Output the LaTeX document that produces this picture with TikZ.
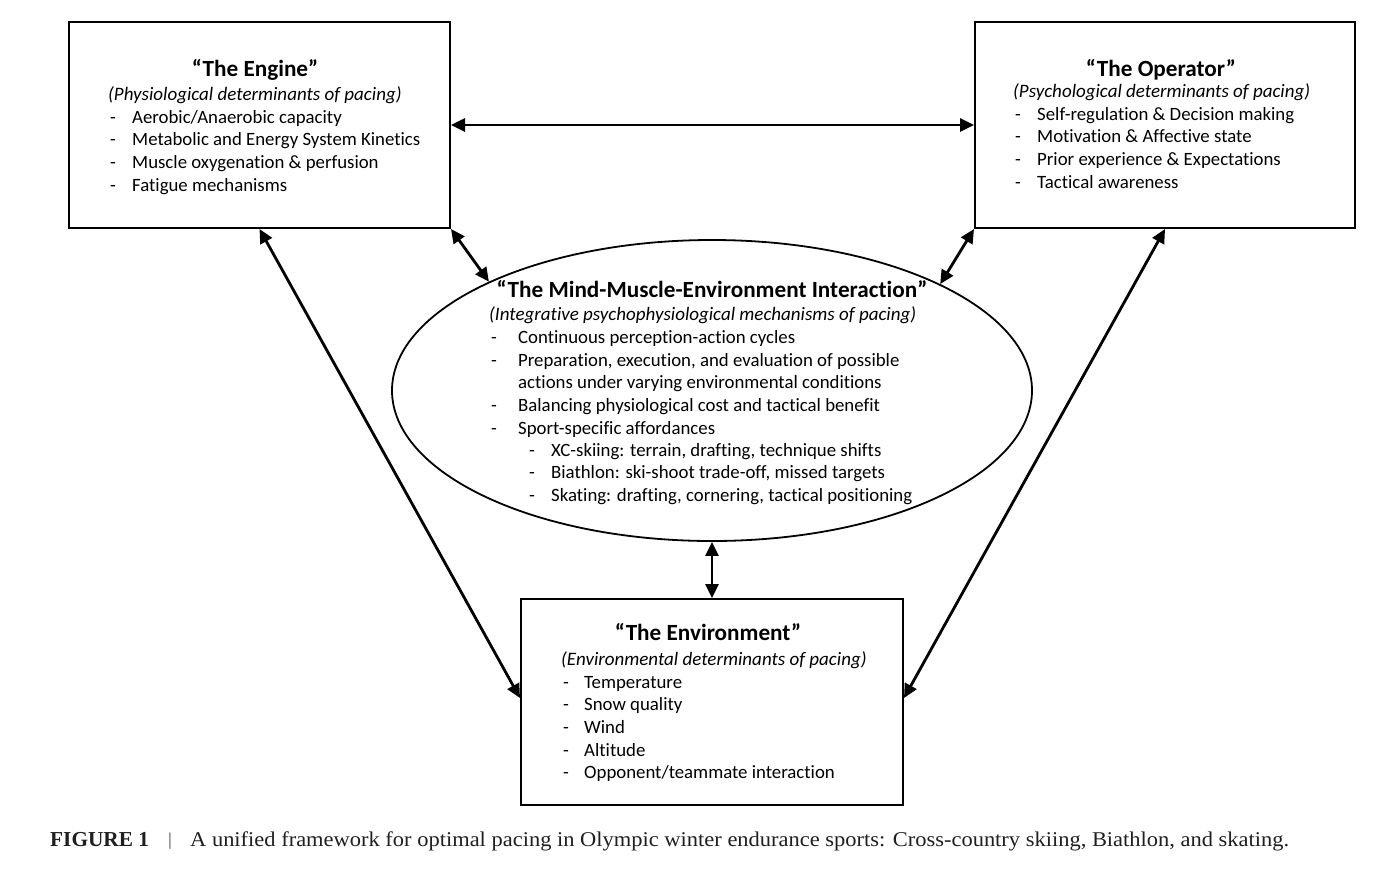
\documentclass[tikz,border=0pt]{standalone}
\usepackage{fontspec}
\setmainfont{Carlito}[Ligatures=NoCommon]
\newfontfamily\capfont{Liberation Serif}[FakeStretch=1.07]
\newfontfamily\capfontb{Liberation Serif}
\usetikzlibrary{arrows.meta,shapes.geometric,calc}
\begin{document}
\begin{tikzpicture}[x=1pt,y=1pt,
  box/.style={draw,line width=2pt,inner sep=0pt},
  ttl/.style={font=\fontsize{23.2}{26}\selectfont\bfseries,anchor=base,inner sep=0pt},
  sub/.style={font=\fontsize{19}{22}\selectfont\itshape,anchor=base west,inner sep=0pt},
  itm/.style={font=\fontsize{18.8}{22}\selectfont,anchor=base west,inner sep=0pt},
  dsh/.style={font=\fontsize{18.8}{22}\selectfont,anchor=base west,inner sep=0pt},
  biarrow/.style={line width=2.8pt,{Triangle[length=14pt,width=13pt]}-{Triangle[length=14pt,width=13pt]}}
]
\useasboundingbox (0,0) rectangle (1380,-876);
\fill[white] (0,0) rectangle (1380,-876);

% boxes
\node[box, minimum width=381pt, minimum height=206pt] (engine) at (259.5,-125) {};
\node[box, minimum width=380pt, minimum height=206pt] (operator) at (1165,-125) {};
\node[box, minimum width=382pt, minimum height=206pt] (env) at (712,-702) {};
\node[draw, line width=1.8pt, ellipse, minimum width=640pt, minimum height=301pt, inner sep=0pt] (mmei) at (712,-390.5) {};

% Engine text
\node[ttl] (etitle) at (255,-76) {“The Engine”};
\node[sub] (esub) at (108,-100) {(Physiological determinants of pacing)};
\foreach \t [count=\i] in {Aerobic/Anaerobic capacity,Metabolic and Energy System Kinetics,Muscle oxygenation \& perfusion,Fatigue mechanisms}{
  \node[dsh] (ed\i) at (110,-123-22.7*\i+22.7) {-};
  \node[itm] (ei\i) at (132,-123-22.7*\i+22.7) {\t};
}

% Operator text
\node[ttl] (otitle) at (1161,-76) {“The Operator”};
\node[sub] (osub) at (1013,-97) {(Psychological determinants of pacing)};
\foreach \t [count=\i] in {Self-regulation \& Decision making,Motivation \& Affective state,Prior experience \& Expectations,Tactical awareness}{
  \node[dsh] (od\i) at (1015,-120-22.7*\i+22.7) {-};
  \node[itm] (oi\i) at (1037,-120-22.7*\i+22.7) {\t};
}

% Ellipse text
\node[ttl] (mtitle) at (712,-297) {“The Mind-Muscle-Environment Interaction”};
\node[sub] (msub) at (489,-320) {(Integrative psychophysiological mechanisms of pacing)};
\foreach \t/\y [count=\i] in {Continuous perception-action cycles/343,{Preparation, execution, and evaluation of possible}/366,Balancing physiological cost and tactical benefit/411,Sport-specific affordances/434}{
  \node[dsh] (md\i) at (491,-\y) {-};
  \node[itm] (mi\i) at (518,-\y) {\t};
}
\node[itm] (mi2b) at (518,-388.5) {actions under varying environmental conditions};
\foreach \t [count=\i] in {{XC-skiing: terrain, drafting, technique shifts},{Biathlon: ski-shoot trade-off, missed targets},{Skating: drafting, cornering, tactical positioning}}{
  \node[dsh] (msd\i) at (529,-456-22.7*\i+22.7) {-};
  \node[itm] (msi\i) at (551,-456-22.7*\i+22.7) {\t};
}

% Environment text
\node[ttl] (ntitle) at (708,-640) {“The Environment”};
\node[sub] (nsub) at (561,-665) {(Environmental determinants of pacing)};
\foreach \t [count=\i] in {Temperature,Snow quality,Wind,Altitude,Opponent/teammate interaction}{
  \node[dsh] (nd\i) at (563,-688-22.7*\i+22.7) {-};
  \node[itm] (ni\i) at (584,-688-22.7*\i+22.7) {\t};
}

% connectors
\draw[biarrow] (engine.east) -- (operator.west);
\draw[biarrow] (engine.south east) -- (mmei.154.6);
\draw[biarrow] (operator.south west) -- (mmei.25.4);
\draw[biarrow] (engine.south) -- ($(env.west)+(0,4)$);
\draw[biarrow] (operator.south) -- ($(env.east)+(0,4)$);
\draw[biarrow] (mmei.south) -- (env.north);

% caption
\node[anchor=base west,inner sep=0pt,font=\capfontb\fontsize{21.3}{24}\selectfont,text=black!88] (capl) at (50,-846) {\textbf{FIGURE 1}};
\node[anchor=base west,inner sep=0pt,font=\capfont\fontsize{18}{24}\selectfont,text=black!70] (capbar) at (168,-845) {|};
\node[anchor=base west,inner sep=0pt,font=\capfont\fontsize{21}{24}\selectfont,text=black!88] (capt) at (190,-846) {A unified framework for optimal pacing in Olympic winter endurance sports: Cross-country skiing, Biathlon, and skating.};
\end{tikzpicture}
\end{document}
